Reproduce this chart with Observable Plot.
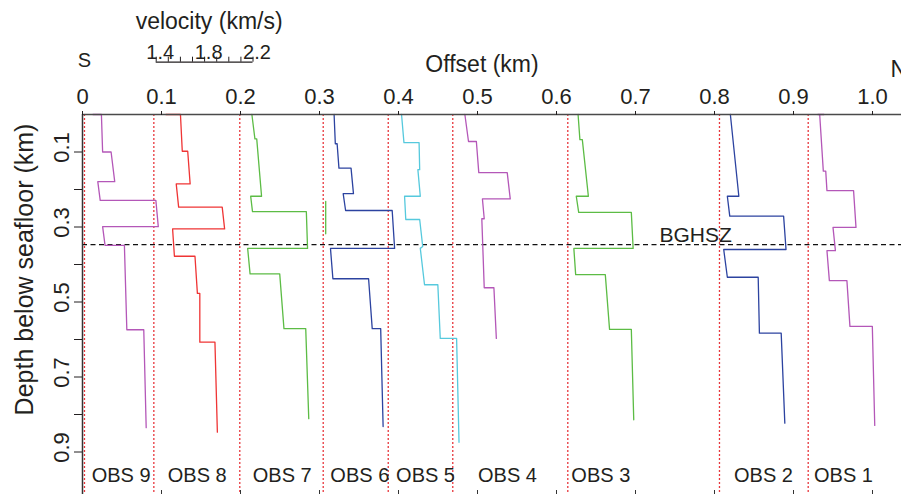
<!DOCTYPE html>
<html>
<head>
<meta charset="utf-8">
<script src="https://cdn.jsdelivr.net/npm/d3@7"></script>
<script src="https://cdn.jsdelivr.net/npm/@observablehq/plot@0.6"></script>
<style>
  html, body { margin: 0; padding: 0; background: #fff; overflow: hidden; }
</style>
</head>
<body>
<div id="chart"></div>
<script>
// OBS stations along the profile, south to north
const stations = ["OBS 9", "OBS 8", "OBS 7", "OBS 6", "OBS 5", "OBS 4", "OBS 3", "OBS 2", "OBS 1"];
// Station offset along the line (km)
const stationOffset = [0.0025, 0.0903, 0.1991, 0.3047, 0.3870, 0.4687, 0.6143, 0.8063, 0.9186];

// Velocity profiles: vertex depth below seafloor (km) and P-wave velocity (km/s)
const depthObs9 = [0, 0, 0.1, 0.1, 0.179, 0.179, 0.229, 0.229, 0.299, 0.299, 0.349, 0.349, 0.574, 0.574, 0.835];
const velObs9   = [1.47, 1.54, 1.55, 1.62, 1.65, 1.51, 1.53, 1.99, 2.01, 1.55, 1.57, 1.73, 1.75, 1.89, 1.91];

const depthObs8 = [0, 0, 0.098, 0.098, 0.185, 0.185, 0.247, 0.247, 0.305, 0.305, 0.378, 0.378, 0.477, 0.477, 0.607, 0.607, 0.847];
const velObs8   = [1.50, 1.62, 1.635, 1.68, 1.70, 1.585, 1.605, 1.965, 1.985, 1.555, 1.57, 1.74, 1.76, 1.78, 1.78, 1.905, 1.925];

const depthObs7 = [0, 0.065, 0.065, 0.218, 0.218, 0.259, 0.259, 0.357, 0.357, 0.425, 0.425, 0.571, 0.571, 0.811];
const velObs7   = [1.50, 1.525, 1.54, 1.58, 1.49, 1.505, 1.95, 1.96, 1.465, 1.485, 1.73, 1.765, 1.945, 1.97];
// short isolated segment picked beside OBS 6
const depthObs7Extra = [0.232, 0.318];
const velObs7Extra   = [2.11, 2.11];

const depthObs6 = [0, 0.078, 0.078, 0.143, 0.143, 0.211, 0.211, 0.256, 0.256, 0.357, 0.357, 0.438, 0.438, 0.571, 0.571, 0.832];
const velObs6   = [1.49, 1.50, 1.515, 1.53, 1.63, 1.65, 1.565, 1.585, 1.97, 1.99, 1.46, 1.48, 1.775, 1.805, 1.875, 1.895];

const depthObs5 = [0, 0.075, 0.075, 0.147, 0.147, 0.218, 0.218, 0.280, 0.280, 0.352, 0.357, 0.454, 0.454, 0.597, 0.597, 0.874];
const velObs5   = [1.51, 1.53, 1.655, 1.66, 1.645, 1.665, 1.535, 1.545, 1.66, 1.685, 1.665, 1.70, 1.81, 1.83, 1.965, 1.985];

const depthObs4 = [0, 0.072, 0.072, 0.155, 0.155, 0.225, 0.225, 0.278, 0.278, 0.462, 0.462, 0.597];
const velObs4   = [1.50, 1.53, 1.595, 1.615, 1.85, 1.875, 1.645, 1.66, 1.64, 1.66, 1.74, 1.76];

const depthObs3 = [0, 0.067, 0.067, 0.218, 0.218, 0.261, 0.261, 0.357, 0.357, 0.427, 0.427, 0.573, 0.573, 0.814];
const velObs3   = [1.485, 1.50, 1.52, 1.57, 1.47, 1.49, 1.925, 1.94, 1.45, 1.465, 1.71, 1.745, 1.925, 1.945];

const depthObs2 = [0, 0.218, 0.218, 0.271, 0.271, 0.36, 0.36, 0.434, 0.434, 0.583, 0.583, 0.823];
const velObs2   = [1.49, 1.56, 1.465, 1.485, 1.93, 1.95, 1.435, 1.465, 1.72, 1.73, 1.91, 1.94];

const depthObs1 = [0, 0, 0, 0.151, 0.151, 0.203, 0.203, 0.301, 0.301, 0.363, 0.363, 0.443, 0.443, 0.565, 0.565, 0.829];
const velObs1   = [1.48, 1.53, 1.495, 1.525, 1.545, 1.555, 1.775, 1.795, 1.605, 1.625, 1.555, 1.575, 1.72, 1.745, 1.93, 1.95];

// Base of the gas hydrate stability zone (km below seafloor)
const bghszDepth = 0.347;

// Axis ticks
const xTicks = [0, 0.1, 0.2, 0.3, 0.4, 0.5, 0.6, 0.7, 0.8, 0.9, 1.0];
const yTicks = [0.1, 0.2, 0.3, 0.4, 0.5, 0.6, 0.7, 0.8, 0.9];
const yLabelTicks = [0.1, 0.3, 0.5, 0.7, 0.9];
const velTicks = [1.4, 1.5, 1.6, 1.7, 1.8, 1.9, 2.0, 2.1, 2.2];
const velLabels = [1.4, 1.8, 2.2];

// ---- styling / layout ----
const purple = "#b457b8", red = "#ef3535", green = "#5cbc45", blue = "#2c43a0", cyan = "#56c9dd";
const stationColor = [purple, red, green, blue, cyan, purple, green, blue, purple];
const labelDx = [36.7, 43.4, 42.4, 36.6, 37.3, 54.7, 33, 44, 35.3];

const W = 901, H = 494, mTop = 114, mLeft = 82;
const pxPerKm = 790, pxPerDepth = 375;
const vRef = 1.4;            // velocity drawn on the station line
const kmPerVel = 121 / 790;  // offset (km) taken by 1 km/s of velocity
const velX = (origin) => (v) => origin + (v - vRef) * kmPerVel;

const depths = [depthObs9, depthObs8, depthObs7, depthObs6, depthObs5, depthObs4, depthObs3, depthObs2, depthObs1];
const vels = [velObs9, velObs8, velObs7, velObs6, velObs5, velObs4, velObs3, velObs2, velObs1];
const rows = stations.map((s, i) => depths[i].map((d, j) => ({depth: d, x: velX(stationOffset[i])(vels[i][j])})));
const extraRows = depthObs7Extra.map((d, j) => ({depth: d, x: velX(stationOffset[2])(velObs7Extra[j])}));

// velocity scale bar above the section
const barOrigin = 0.0933;
const barDepth = (61.7 - mTop) / pxPerDepth;
const barX = velX(barOrigin);
const yMax = (H - mTop) / pxPerDepth;

const font = "'Liberation Sans', Arial, Helvetica, sans-serif";

const chart = Plot.plot({
  width: W,
  height: H,
  marginLeft: mLeft,
  marginRight: 0,
  marginTop: mTop,
  marginBottom: 0,
  x: {domain: [0, (W - mLeft) / pxPerKm]},
  y: {domain: [0, yMax], reverse: true},
  style: {fontFamily: font, color: "#231f20", background: "#fff", overflow: "visible"},
  marks: [
    // station positions
    Plot.ruleX(stationOffset, {stroke: "#e8373d", strokeWidth: 1.3, strokeDasharray: "2,2"}),
    // BGHSZ
    Plot.ruleY([bghszDepth], {stroke: "#111", strokeWidth: 1.1, strokeDasharray: "5,3.5"}),
    Plot.text(["BGHSZ"], {x: 0.7304, y: bghszDepth, textAnchor: "start", lineAnchor: "bottom", dy: -2.6, fontSize: 21}),
    // velocity profiles
    ...rows.map((r, i) => Plot.line(r, {x: "x", y: "depth", stroke: stationColor[i], strokeWidth: 1.3})),
    Plot.line(extraRows, {x: "x", y: "depth", stroke: green, strokeWidth: 1.3}),
    // frame edges
    Plot.ruleY([0], {stroke: "#4a4a4a", strokeWidth: 1.6}),
    Plot.ruleX([0], {stroke: "#333", strokeWidth: 1.5}),
    // top offset axis
    Plot.axisX({anchor: "top", ticks: xTicks, tickSize: 4, tickPadding: 6.5, fontSize: 22,
      tickFormat: d => d === 0 ? "0" : d.toFixed(1), label: null}),
    Plot.ruleX(xTicks.slice(1), {y1: (490 - mTop) / pxPerDepth, y2: yMax, stroke: "#333"}),
    Plot.text(["Offset (km)"], {frameAnchor: "top", lineAnchor: "bottom", dx: -10, dy: -42.3, fontSize: 23}),
    Plot.text(["S"], {x: 0, frameAnchor: "top", lineAnchor: "bottom", dx: 2, dy: -47.3, fontSize: 20}),
    Plot.text(["N"], {x: 1.0, frameAnchor: "top", textAnchor: "start", lineAnchor: "bottom", dx: 18, dy: -37.3, fontSize: 23}),
    // depth axis
    Plot.axisY({anchor: "left", ticks: yTicks, tickSize: 8, fill: "none", label: null}),
    Plot.text(yLabelTicks, {x: 0, y: d => d, text: d => d.toFixed(1), rotate: -90, lineAnchor: "bottom",
      dx: -14, dy: -4.5, fontSize: 22}),
    Plot.text(["Depth below seafloor (km)"], {frameAnchor: "left", rotate: -90, textAnchor: "middle", lineAnchor: "bottom",
      dx: -50, dy: -35, fontSize: 25}),
    // velocity scale bar
    Plot.ruleY([barDepth], {x1: barX(velTicks[0]), x2: barX(velTicks[velTicks.length - 1]), stroke: "#231f20", strokeWidth: 1.2}),
    Plot.ruleX(velTicks, {x: barX, y1: barDepth, y2: barDepth - 5 / pxPerDepth, stroke: "#231f20", strokeWidth: 1}),
    Plot.text(velLabels, {x: barX, y: barDepth, text: d => d.toFixed(1), lineAnchor: "bottom", dx: 4, dy: -3.4, fontSize: 20}),
    Plot.text(["velocity (km/s)"], {x: barX(1.8), y: barDepth, lineAnchor: "bottom", dx: 4.5, dy: -33.4, fontSize: 23}),
    // station labels
    ...stations.map((s, i) => Plot.text([s], {x: stationOffset[i], frameAnchor: "bottom", lineAnchor: "bottom",
      dx: labelDx[i], dy: -13, fontSize: 20}))
  ]
});

document.getElementById("chart").appendChild(chart);
</script>
</body>
</html>
